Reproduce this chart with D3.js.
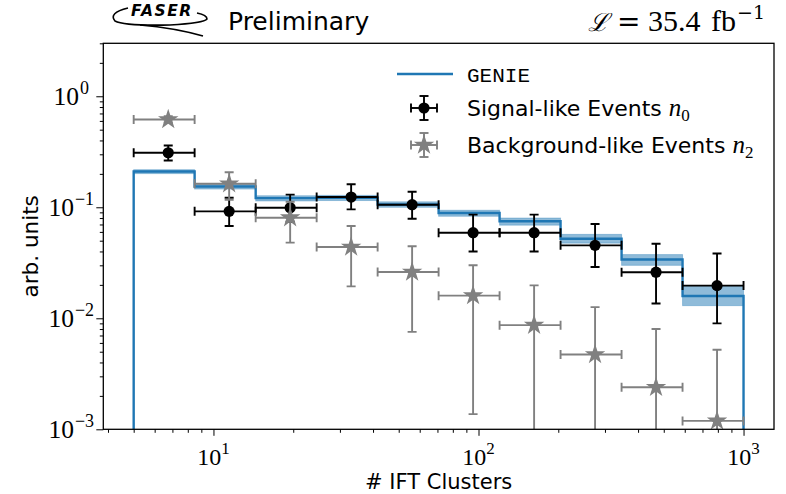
<!DOCTYPE html>
<html>
<head>
<meta charset="utf-8">
<script src="https://cdn.jsdelivr.net/npm/d3@7"></script>
<style>
  body { margin: 0; background: #fff; }
  svg { display: block; }
</style>
</head>
<body>
<div id="chart"></div>
<script>
// bin edges of # IFT clusters (log spaced 5 .. 1000)
const binEdges = [5, 8.49, 14.43, 24.51, 41.63, 70.71, 120.1, 204.0, 346.6, 588.7, 1000];
const binCenters = [6.75, 11.46, 19.47, 33.07, 56.17, 95.4, 162.1, 275.3, 467.6, 794.4];

// GENIE prediction + band
const genie   = [0.210, 0.154, 0.121, 0.122, 0.106, 0.0887, 0.0748, 0.0521, 0.0339, 0.0159];
const genieLo = [0.201, 0.146, 0.114, 0.115, 0.100, 0.0830, 0.0690, 0.0475, 0.0300, 0.0130];
const genieHi = [0.218, 0.161, 0.127, 0.128, 0.112, 0.0940, 0.0800, 0.0570, 0.0375, 0.0197];

// signal-like events n0
const signal   = [0.310, 0.0919, 0.0991, 0.1236, 0.1055, 0.059, 0.059, 0.0454, 0.0260, 0.0197];
const signalLo = [0.264, 0.0678, 0.0740, 0.0958, 0.0789, 0.0399, 0.0399, 0.0290, 0.0136, 0.0090];
const signalHi = [0.360, 0.122, 0.130, 0.161, 0.138, 0.0858, 0.0858, 0.0706, 0.0470, 0.0383];

// background-like events n2 (0 = bar runs off the axis)
const bkg   = [0.617, 0.163, 0.0806, 0.0439, 0.0261, 0.0160, 0.00867, 0.00472, 0.00239, 0.00119];
const bkgLo = [0.580, 0.117, 0.0480, 0.0194, 0.00755, 0.00137, 0, 0, 0, 0];
const bkgHi = [0.660, 0.207, 0.112, 0.0678, 0.0445, 0.0300, 0.0198, 0.0126, 0.0080, 0.0052];

const xMajor = [10, 100, 1000];
const xMajorLabels = ["1", "2", "3"];
const yMajor = [1e-3, 1e-2, 1e-1, 1];
const yMajorLabels = ["\u22123", "\u22122", "\u22121", "0"];

const width = 786, height = 494;
const margin = {left: 103.3, top: 43.3, right: 12, bottom: 64.7};
const W = width - margin.left - margin.right;
const H = height - margin.top - margin.bottom;

const blue = "#1f77b4", grey = "#808080";
const sans = "'DejaVu Sans', sans-serif";
const serif = "'Liberation Serif', 'DejaVu Serif', serif";

const svg = d3.select("#chart").append("svg")
    .attr("width", width)
    .attr("height", height);

const g = svg.append("g")
    .attr("transform", "translate(" + margin.left + "," + margin.top + ")");

svg.append("defs").append("clipPath").attr("id", "plotclip")
    .append("rect").attr("width", W).attr("height", H);

const x = d3.scaleLog().domain([3.84, 1303]).range([0, W]);
const y = d3.scaleLog().domain([1e-3, 3]).range([H, 0]);

// minor ticks
let xMinor = [], yMinor = [];
[1, 10, 100].forEach(dec => {
    for (let k = 2; k <= 9; k++) {
        let v = k * dec;
        if (v >= 3.84 && v <= 1303) xMinor.push(v);
    }
});
[1e-3, 1e-2, 1e-1, 1].forEach(dec => {
    for (let k = 2; k <= 9; k++) {
        let v = k * dec;
        if (v <= 3) yMinor.push(v);
    }
});

function styleAxis(sel) {
    sel.select(".domain").remove();
    sel.selectAll("line").attr("stroke", "#000").attr("stroke-width", 1);
}

g.append("g").attr("transform", "translate(0," + H + ")")
    .call(d3.axisBottom(x).tickValues(xMinor).tickSize(3.5).tickFormat(""))
    .call(styleAxis);
g.append("g").attr("transform", "translate(0," + H + ")")
    .call(d3.axisBottom(x).tickValues(xMajor).tickSize(6.5).tickFormat(""))
    .call(styleAxis);
g.append("g")
    .call(d3.axisLeft(y).tickValues(yMinor).tickSize(3.5).tickFormat(""))
    .call(styleAxis);
g.append("g")
    .call(d3.axisLeft(y).tickValues(yMajor).tickSize(7).tickFormat(""))
    .call(styleAxis);

// tick labels 10^k
xMajor.forEach((v, i) => {
    let t = g.append("text")
        .attr("x", x(v)).attr("y", H + 36)
        .attr("text-anchor", "middle")
        .style("font-family", serif).style("font-size", "24px");
    t.append("tspan").text("10");
    t.append("tspan").attr("dy", -11).style("font-size", "17px").text(xMajorLabels[i]);
});
yMajor.forEach((v, i) => {
    let t = g.append("text")
        .attr("x", -32).attr("y", y(v) + 8.5)
        .attr("text-anchor", "middle")
        .style("font-family", serif).style("font-size", "25.5px");
    t.append("tspan").text("10");
    t.append("tspan").attr("dy", -11).attr("dx", 1).style("font-size", "18px").text(yMajorLabels[i]);
});

// axis titles
g.append("text")
    .attr("x", W / 2).attr("y", H + 59.5)
    .attr("text-anchor", "middle")
    .style("font-family", sans).style("font-size", "21px")
    .text("# IFT Clusters");
g.append("text")
    .attr("transform", "translate(-65," + (H / 2 + 10) + ") rotate(-90)")
    .attr("text-anchor", "middle")
    .style("font-family", sans).style("font-size", "21.5px")
    .text("arb. units");

const plot = g.append("g").attr("clip-path", "url(#plotclip)");

// GENIE band
plot.selectAll(".band").data(genie).enter().append("rect")
    .attr("class", "band")
    .attr("x", (d, i) => x(binEdges[i]))
    .attr("width", (d, i) => x(binEdges[i + 1]) - x(binEdges[i]))
    .attr("y", (d, i) => y(genieHi[i]))
    .attr("height", (d, i) => y(genieLo[i]) - y(genieHi[i]))
    .attr("fill", blue).attr("fill-opacity", 0.5)
    .attr("stroke", blue).attr("stroke-opacity", 0.35).attr("stroke-width", 1);

// GENIE step line
let stepPts = [[x(binEdges[0]), H + 5]];
genie.forEach((d, i) => {
    stepPts.push([x(binEdges[i]), y(d)]);
    stepPts.push([x(binEdges[i + 1]), y(d)]);
});
stepPts.push([x(binEdges[binEdges.length - 1]), H + 5]);

plot.append("path")
    .attr("d", d3.line()(stepPts))
    .attr("fill", "none")
    .attr("stroke", blue)
    .attr("stroke-width", 2.4);

// error bars + markers
function drawPoints(sel, xs, vals, lo, hi, x0, x1, color, symbol) {
    let cap = 4.5;
    vals.forEach((v, i) => {
        let cx = x(xs[i]), cy = y(v);
        let xl = x(x0[i]), xr = x(x1[i]);
        let yt = y(hi[i]);
        let yb = lo[i] > 0 ? y(lo[i]) : H + 10;
        let eg = sel.append("g")
            .attr("stroke", color).attr("stroke-width", 1.9).attr("fill", "none");
        eg.append("line").attr("x1", xl).attr("x2", xr).attr("y1", cy).attr("y2", cy);
        eg.append("line").attr("x1", cx).attr("x2", cx).attr("y1", yt).attr("y2", yb);
        eg.append("line").attr("x1", xl).attr("x2", xl).attr("y1", cy - cap).attr("y2", cy + cap);
        eg.append("line").attr("x1", xr).attr("x2", xr).attr("y1", cy - cap).attr("y2", cy + cap);
        eg.append("line").attr("x1", cx - cap).attr("x2", cx + cap).attr("y1", yt).attr("y2", yt);
        if (lo[i] > 0) {
            eg.append("line").attr("x1", cx - cap).attr("x2", cx + cap).attr("y1", yb).attr("y2", yb);
        }
        sel.append("path")
            .attr("d", symbol)
            .attr("transform", "translate(" + cx + "," + cy + ")")
            .attr("fill", color);
    });
}

const dotSym = d3.symbol().type(d3.symbolCircle).size(Math.PI * 5.6 * 5.6)();
const starSym = d3.symbol().type(d3.symbolStar).size(130)();

drawPoints(plot, binCenters, signal, signalLo, signalHi,
    binEdges.slice(0, -1), binEdges.slice(1), "#000", dotSym);
drawPoints(plot, binCenters, bkg, bkgLo, bkgHi,
    binEdges.slice(0, -1), binEdges.slice(1), grey, starSym);

// frame
g.append("rect")
    .attr("width", W).attr("height", H)
    .attr("fill", "none")
    .attr("stroke", "#000")
    .attr("stroke-width", 1.3);

// legend
const legend = svg.append("g");
legend.append("line")
    .attr("x1", 397).attr("x2", 453).attr("y1", 74).attr("y2", 74)
    .attr("stroke", blue).attr("stroke-width", 2.4);
legend.append("text")
    .attr("x", 467).attr("y", 82)
    .style("font-family", "'Liberation Mono', monospace").style("font-size", "21px")
    .text("GENIE");

function legendMarker(cy, color, symbol) {
    let cx = 424, cap = 4.5;
    let lg = legend.append("g").attr("stroke", color).attr("stroke-width", 1.9);
    lg.append("line").attr("x1", cx - 13).attr("x2", cx + 13).attr("y1", cy).attr("y2", cy);
    lg.append("line").attr("x1", cx).attr("x2", cx).attr("y1", cy - 12).attr("y2", cy + 12);
    lg.append("line").attr("x1", cx - 13).attr("x2", cx - 13).attr("y1", cy - cap).attr("y2", cy + cap);
    lg.append("line").attr("x1", cx + 13).attr("x2", cx + 13).attr("y1", cy - cap).attr("y2", cy + cap);
    lg.append("line").attr("x1", cx - cap).attr("x2", cx + cap).attr("y1", cy - 12).attr("y2", cy - 12);
    lg.append("line").attr("x1", cx - cap).attr("x2", cx + cap).attr("y1", cy + 12).attr("y2", cy + 12);
    legend.append("path").attr("d", symbol)
        .attr("transform", "translate(" + cx + "," + cy + ")")
        .attr("fill", color);
}
legendMarker(108, "#000", dotSym);
legendMarker(145, grey, starSym);

function legendText(yb, label, sub) {
    let t = legend.append("text")
        .attr("x", 467).attr("y", yb)
        .style("font-family", sans).style("font-size", "22px")
        .text(label + " ");
    t.append("tspan").style("font-family", serif).style("font-style", "italic")
        .style("font-size", "25px").text("n");
    t.append("tspan").attr("dy", 5).style("font-family", serif)
        .style("font-size", "17px").text(sub);
}
legendText(116, "Signal-like Events", "0");
legendText(153, "Background-like Events", "2");

// header: FASER logo + Preliminary
const logo = svg.append("g");
logo.append("path")
    .attr("d", "M128,8 Q108,13 115,21 Q124,26 170,25 Q204,23 207,19 Q207,15 197,13")
    .attr("fill", "none").attr("stroke", "#000").attr("stroke-width", 1.6);
logo.append("path")
    .attr("d", "M140,25 Q175,28 203,36")
    .attr("fill", "none").attr("stroke", "#000").attr("stroke-width", 1.6);
logo.append("text")
    .attr("x", 131).attr("y", 16)
    .style("font-family", sans).style("font-weight", "bold").style("font-style", "italic")
    .style("font-size", "15.5px").style("letter-spacing", "1.5px")
    .text("FASER");

svg.append("text")
    .attr("x", 228).attr("y", 30)
    .style("font-family", sans).style("font-size", "25px")
    .text("Preliminary");

// luminosity label, pieces placed like the LaTeX original
const lumi = svg.append("g")
    .style("font-family", serif).style("font-size", "30px");
lumi.append("text").attr("x", 588).attr("y", 31)
    .style("font-family", "'DejaVu Serif', serif").style("font-size", "25px").style("font-style", "italic")
    .text("\u2112");
lumi.append("text").attr("x", 617).attr("y", 31)
    .style("font-family", "'DejaVu Serif', serif").style("font-size", "28px")
    .text("=");
lumi.append("text").attr("x", 648).attr("y", 31).text("35.4");
lumi.append("text").attr("x", 711).attr("y", 31).text("fb");
lumi.append("text").attr("x", 737).attr("y", 19)
    .style("font-family", "'DejaVu Serif', serif").style("font-size", "19px")
    .text("\u22121");
</script>
</body>
</html>
